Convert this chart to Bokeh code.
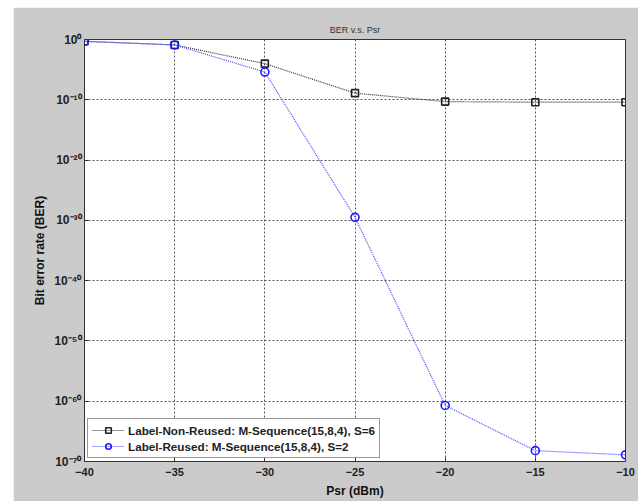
from bokeh.plotting import figure
from bokeh.models import FixedTicker, CustomJSTickFormatter, Range1d, Legend, LegendItem, Spacer
from bokeh.layouts import row, column
from bokeh.embed import file_html
from bokeh.resources import INLINE

psr = [-40, -35, -30, -25, -20, -15, -10]
ber_non_reused = [10**-0.3, 10**-0.9, 10**-4.0, 10**-8.9, 10**-10.3, 10**-10.4, 10**-10.4]
ber_reused = [10**-0.3, 10**-0.9, 10**-5.4, 10**-29.5, 10**-60.7, 10**-68.2, 10**-68.9]
x_ticks = [-40, -35, -30, -25, -20, -15, -10]
y_ticks = [1e-70, 1e-60, 1e-50, 1e-40, 1e-30, 1e-20, 1e-10, 1.0]
label_non = "Label-Non-Reused: M-Sequence(15,8,4), S=6"
label_reu = "Label-Reused: M-Sequence(15,8,4), S=2"

FONT = "Liberation Sans"
BG = "#cbcbcb"

p = figure(width=625, height=494, y_axis_type="log",
           x_range=Range1d(-40, -10), y_range=Range1d(1e-70, 1.0),
           output_backend="svg", toolbar_location=None,
           title="BER v.s. Psr",
           min_border_left=71, min_border_top=32, min_border_right=13, min_border_bottom=40)
p.border_fill_color = BG
p.background_fill_color = "white"
p.outline_line_color = "#333333"
p.outline_line_width = 1

p.title.text_font = FONT
p.title.text_font_size = "9px"
p.title.text_font_style = "normal"
p.title.text_color = "#333333"
p.title.align = "center"

p.xaxis.ticker = FixedTicker(ticks=x_ticks)
p.yaxis.ticker = FixedTicker(ticks=y_ticks)
p.yaxis.formatter = CustomJSTickFormatter(code="""
const sup = {'-':'\u207b','0':'\u2070','1':'\u00b9','2':'\u00b2','3':'\u00b3','4':'\u2074','5':'\u2075','6':'\u2076','7':'\u2077','8':'\u2078','9':'\u2079'};
const e = Math.round(Math.log10(tick));
return '10' + String(e).split('').map(c => sup[c]).join('');
""")
for ax in (p.xaxis[0], p.yaxis[0]):
    ax.major_tick_in = 4
    ax.major_tick_out = 0
    ax.minor_tick_in = 0
    ax.minor_tick_out = 0
    ax.axis_line_color = "#333333"
    ax.major_tick_line_color = "#333333"
    ax.major_label_text_font = FONT
    ax.major_label_text_font_size = "11px"
    ax.major_label_text_font_style = "bold"
    ax.major_label_text_color = "#222222"
    ax.axis_label_text_font = FONT
    ax.axis_label_text_font_size = "12px"
    ax.axis_label_text_font_style = "bold"
    ax.axis_label_text_color = "#111111"
p.yaxis.major_label_text_font_size = "12px"
p.xaxis.axis_label = "Psr (dBm)"
p.yaxis.axis_label = "Bit error rate (BER)"
p.xaxis.major_label_standoff = 6
p.xaxis.axis_label_standoff = 5
p.yaxis.major_label_standoff = 3
p.yaxis.axis_label_standoff = 4

p.grid.grid_line_color = "#555555"
p.grid.grid_line_dash = "2 2"
p.grid.grid_line_width = 1
p.ygrid.minor_grid_line_color = None

l1 = p.line(psr, ber_non_reused, line_color="#333333", line_width=1.2, line_dash="1 1")
s1 = p.scatter(psr, ber_non_reused, marker="square", size=7, fill_color=None,
               line_color="#222222", line_width=1.6)
l2 = p.line(psr, ber_reused, line_color="#4a4aff", line_width=1.2, line_dash="1 1")
s2 = p.scatter(psr, ber_reused, marker="circle", size=8, fill_color=None,
               line_color="#1a1aff", line_width=1.6)

legend = Legend(items=[LegendItem(label=label_non, renderers=[l1, s1]),
                       LegendItem(label=label_reu, renderers=[l2, s2])],
                location="bottom_left")
legend.margin = 3
legend.padding = 4
legend.spacing = 2
legend.label_text_font = FONT
legend.label_text_font_size = "11.7px"
legend.label_text_font_style = "bold"
legend.label_text_color = "#222222"
legend.glyph_width = 32
legend.glyph_height = 14
legend.label_standoff = 4
legend.label_height = 14
legend.border_line_color = "#333333"
legend.border_line_width = 1
legend.background_fill_color = "white"
legend.background_fill_alpha = 1
p.add_layout(legend)

layout = column(Spacer(width=10, height=7), row(Spacer(width=13, height=10), p))
open("out.html", "w").write(file_html(layout, INLINE))
